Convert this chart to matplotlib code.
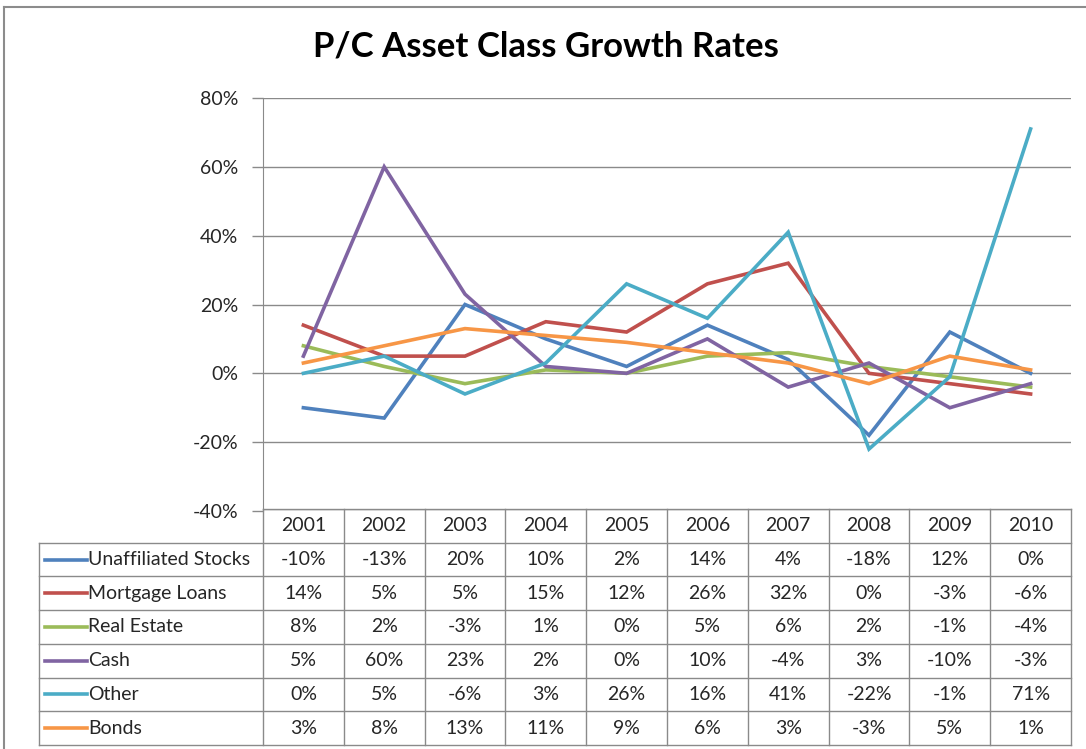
import numpy as np
import matplotlib.pyplot as plt
from matplotlib.lines import Line2D

plt.rcParams['font.family'] = ['Lato', 'DejaVu Sans']

# data
years = ['2001', '2002', '2003', '2004', '2005', '2006', '2007', '2008', '2009', '2010']
series_names = ['Unaffiliated Stocks', 'Mortgage Loans', 'Real Estate', 'Cash', 'Other', 'Bonds']
unaffiliated_stocks = [-10, -13, 20, 10, 2, 14, 4, -18, 12, 0]
mortgage_loans = [14, 5, 5, 15, 12, 26, 32, 0, -3, -6]
real_estate = [8, 2, -3, 1, 0, 5, 6, 2, -1, -4]
cash = [5, 60, 23, 2, 0, 10, -4, 3, -10, -3]
other = [0, 5, -6, 3, 26, 16, 41, -22, -1, 71]
bonds = [3, 8, 13, 11, 9, 6, 3, -3, 5, 1]
y_ticks = [-40, -20, 0, 20, 40, 60, 80]

series = [unaffiliated_stocks, mortgage_loans, real_estate, cash, other, bonds]
colours = ['#4F81BD', '#C0504D', '#9BBB59', '#8064A2', '#4BACC6', '#F79646']

W, H = 1086, 749
fig = plt.figure(figsize=(W / 100, H / 100), dpi=100)

# pixel layout
plot_l, plot_r = 263, 1071
plot_t, plot_b = 98, 511
tab_t, tab_b = 509, 745
label_l = 39

grid_col = '#8a8a8a'
text_col = '#262626'
fs = 14

ax = fig.add_axes([plot_l / W, 1 - plot_b / H, (plot_r - plot_l) / W, (plot_b - plot_t) / H])
x = np.arange(len(years))
for vals, col in zip(series, colours):
    ax.plot(x, np.array(vals) / 100, color=col, lw=2.6, solid_joinstyle='miter')

ax.set_xlim(-0.5, len(years) - 0.5)
ax.set_ylim(-0.4, 0.8)
ax.set_yticks(np.array(y_ticks) / 100)
ax.set_yticklabels([f'{v}%' for v in y_ticks], fontsize=fs, color=text_col)
ax.set_xticks([])
ax.tick_params(axis='y', length=8, width=1, color=grid_col, pad=10)
ax.grid(axis='y', color=grid_col, lw=1)
for s in ['top', 'right', 'bottom']:
    ax.spines[s].set_visible(False)
ax.spines['left'].set_color(grid_col)

fig.text(0.5 + 3 / W, 1 - 47 / H, 'P/C Asset Class Growth Rates', ha='center', va='center',
         fontsize=25, fontweight='bold', color='black')

# data table
tab = fig.add_axes([plot_l / W, 1 - tab_b / H, (plot_r - plot_l) / W, (tab_b - tab_t) / H])
tab.set_xlim(-0.5, len(years) - 0.5)
tab.set_ylim(len(series) + 1, 0)
tab.axis('off')

col_w = (plot_r - plot_l) / len(years)


def px(xp):
    return -0.5 + (xp - plot_l) / col_w


n = len(series) + 1
lk = dict(color=grid_col, lw=1, clip_on=False)
tab.plot([-0.5, len(years) - 0.5], [0, 0], **lk)
for r in range(1, n + 1):
    tab.plot([px(label_l), len(years) - 0.5], [r, r], **lk)
for c in range(len(years) + 1):
    tab.plot([c - 0.5, c - 0.5], [0, n], **lk)
tab.plot([px(label_l), px(label_l)], [1, n], **lk)

for i, yr in enumerate(years):
    tab.text(i, 0.5, yr, ha='center', va='center', fontsize=fs, color=text_col)

for r, (name, vals, col) in enumerate(zip(series_names, series, colours), start=1):
    tab.plot([px(45), px(87)], [r + 0.5, r + 0.5], color=col, lw=2.6, clip_on=False)
    tab.text(px(88), r + 0.5, name, ha='left', va='center', fontsize=fs, color=text_col)
    for i, v in enumerate(vals):
        tab.text(i, r + 0.5, f'{v}%', ha='center', va='center', fontsize=fs, color=text_col)

# chart border
fig.add_artist(Line2D([4 / W, 1], [1 - 7 / H, 1 - 7 / H], color='#8c8c8c', lw=1.5))
fig.add_artist(Line2D([4 / W, 4 / W], [0, 1 - 7 / H], color='#8c8c8c', lw=1.5))

fig.savefig('out.png', dpi=100, facecolor='white')
